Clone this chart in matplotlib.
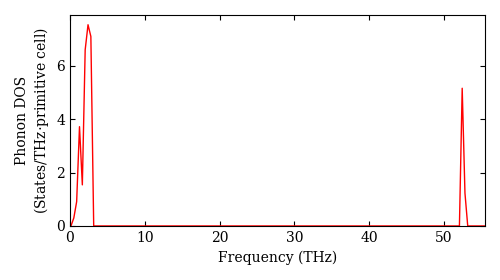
import matplotlib
matplotlib.use("Agg")
import matplotlib.pyplot as plt

# Phonon DOS
freq = [0.13, 0.51, 0.89, 1.27, 1.65, 2.03, 2.41, 2.79, 3.17,
        52.08, 52.45, 52.82, 53.19, 55.6]
dos = [0.0, 0.3, 0.91, 3.72, 1.54, 6.6, 7.54, 7.1, 0.0,
       0.0, 5.16, 1.23, 0.0, 0.0]

plt.rcParams["font.family"] = "DejaVu Serif"
plt.rcParams["mathtext.fontset"] = "dejavuserif"

fig = plt.figure(figsize=(5.0, 2.8), dpi=100)
ax = fig.add_axes([0.14, 0.193, 0.83, 0.753])

ax.plot(freq, dos, color="red", lw=1.0)

ax.set_xlim(0, 55.5)
ax.set_ylim(0, 7.9)
ax.set_xticks([0, 10, 20, 30, 40, 50])
ax.set_yticks([0, 2, 4, 6])
ax.tick_params(direction="in", top=True, right=True, labelsize=10)
ax.set_xlabel("Frequency (THz)", fontsize=10)
ax.set_ylabel("Phonon DOS\n(States/THz$\\cdot$primitive cell)", fontsize=10)

fig.savefig("out.png", dpi=100)
